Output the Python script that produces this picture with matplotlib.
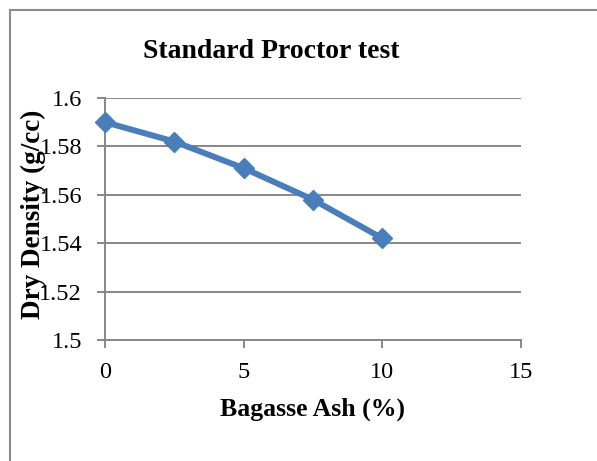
import matplotlib
matplotlib.use("Agg")
import matplotlib.pyplot as plt
from matplotlib.lines import Line2D

ash = [0, 2.5, 5, 7.5, 10]
density = [1.590, 1.582, 1.571, 1.558, 1.542]
xticks = [0, 5, 10, 15]
yticks = [1.5, 1.52, 1.54, 1.56, 1.58, 1.6]
ytick_labels = ["1.5", "1.52", "1.54", "1.56", "1.58", "1.6"]

plt.rcParams['font.family'] = ['Liberation Serif', 'DejaVu Serif']

fig = plt.figure(figsize=(5.97, 4.61), dpi=100)
ax = fig.add_axes([105/597, 1-340/461, (521-105)/597, (340-98)/461])

grid_c = '#878787'
ax.plot(ash, density, color='#4A7EBB', lw=4.3, marker='D', markersize=10,
        solid_joinstyle='round', zorder=3, clip_on=False)

ax.set_xlim(0, 15)
ax.set_ylim(1.5, 1.6)
ax.set_xticks(xticks)
ax.set_xticklabels([str(t) for t in xticks])
ax.set_yticks(yticks)
ax.set_yticklabels(ytick_labels)
ax.grid(axis='y', color=grid_c, lw=1.4)
ax.set_axisbelow(True)
for s in ['top', 'right']:
    ax.spines[s].set_visible(False)
for s in ['left', 'bottom']:
    ax.spines[s].set_color(grid_c)
    ax.spines[s].set_linewidth(1.4)
ax.tick_params(axis='both', colors=grid_c, width=1.4, length=5.5, labelsize=17.5,
               labelcolor='black')
ax.tick_params(axis='x', pad=10)
ax.tick_params(axis='y', pad=11)

fig.text(271/597, 1-51/461, 'Standard Proctor test', fontsize=20,
         fontweight='bold', ha='center', va='center')
fig.text(312/597, 1-409/461, 'Bagasse Ash (%)', fontsize=18.5,
         fontweight='bold', ha='center', va='center')
fig.text(33/597, 1-214/461, 'Dry Density (g/cc)', rotation=90, fontsize=19.5,
         fontweight='bold', ha='center', va='center')

# chart border (left and top visible)
fig.add_artist(Line2D([10/597, 10/597], [0, 1-10/461], transform=fig.transFigure,
                      color='#8c8c8c', lw=1.5))
fig.add_artist(Line2D([10/597, 1], [1-10/461, 1-10/461], transform=fig.transFigure,
                      color='#8c8c8c', lw=1.5))

fig.savefig('out.png', dpi=100)
